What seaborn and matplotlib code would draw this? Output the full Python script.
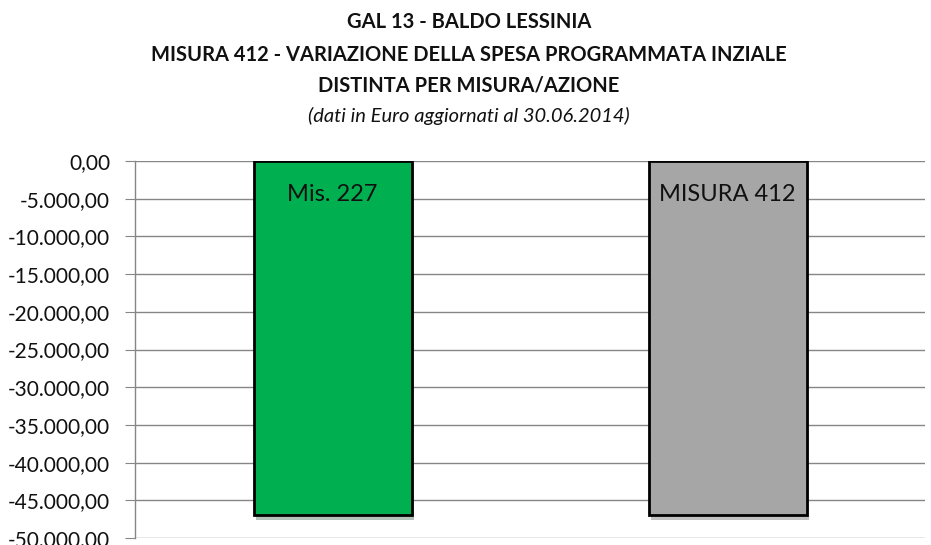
import pandas as pd
import numpy as np
import matplotlib
matplotlib.use('Agg')
import matplotlib.pyplot as plt
import matplotlib.patheffects as pe
from matplotlib.ticker import FuncFormatter
import seaborn as sns

# data
categories = ['Mis. 227', 'MISURA 412']
values = [-47000, -47000]
bar_colors = ['#00B050', '#A6A6A6']
y_ticks = list(range(0, -50001, -5000))

df = pd.DataFrame({'cat': categories, 'val': values})

sns.set_style('white')
plt.rcParams['font.family'] = ['Lato', 'DejaVu Sans']

fig = plt.figure(figsize=(9.31, 5.45), dpi=100)
ax = fig.add_axes([135 / 931, 1 - 538 / 545, 790 / 931, 377 / 545])

sns.barplot(data=df, x='cat', y='val', hue='cat', palette=bar_colors,
            saturation=1, width=0.4, edgecolor='black', linewidth=2,
            legend=False, ax=ax, zorder=3)

for p in ax.patches:
    p.set_path_effects([pe.SimplePatchShadow(offset=(2, -3), alpha=0.3),
                        pe.Normal()])

for i, lab in enumerate(categories):
    ax.text(i, -4500, lab, ha='center', va='center', fontsize=17,
            color='#111111', zorder=4)


def fmt(v, pos):
    s = f'{abs(v):,.2f}'.replace(',', 'X').replace('.', ',').replace('X', '.')
    return ('-' if v < 0 else '') + s


ax.set_ylim(-50000, 0)
ax.set_yticks(y_ticks)
ax.yaxis.set_major_formatter(FuncFormatter(fmt))
ax.tick_params(axis='y', labelsize=15, length=7, color='#868686',
               labelcolor='#111111', left=True, pad=11)
ax.set_xticks([])
ax.set_xlabel('')
ax.set_ylabel('')
ax.grid(axis='y', color='#868686', linewidth=1, zorder=0)
for s in ['top', 'right', 'bottom']:
    ax.spines[s].set_visible(False)
ax.spines['left'].set_color('#868686')
ax.spines['left'].set_linewidth(1)

title_lines = ['GAL 13 - BALDO LESSINIA',
               'MISURA 412 - VARIAZIONE DELLA SPESA PROGRAMMATA INZIALE',
               'DISTINTA PER MISURA/AZIONE']
for y, line in zip([22, 55, 86], title_lines):
    fig.text(469 / 931, 1 - y / 545, line, ha='center', va='center',
             fontsize=14.5, fontweight='bold', color='#111111')
fig.text(469 / 931, 1 - 116 / 545, '(dati in Euro aggiornati al 30.06.2014)',
         ha='center', va='center', fontsize=14.5, style='italic',
         color='#111111')

fig.savefig('out.png', dpi=100)
